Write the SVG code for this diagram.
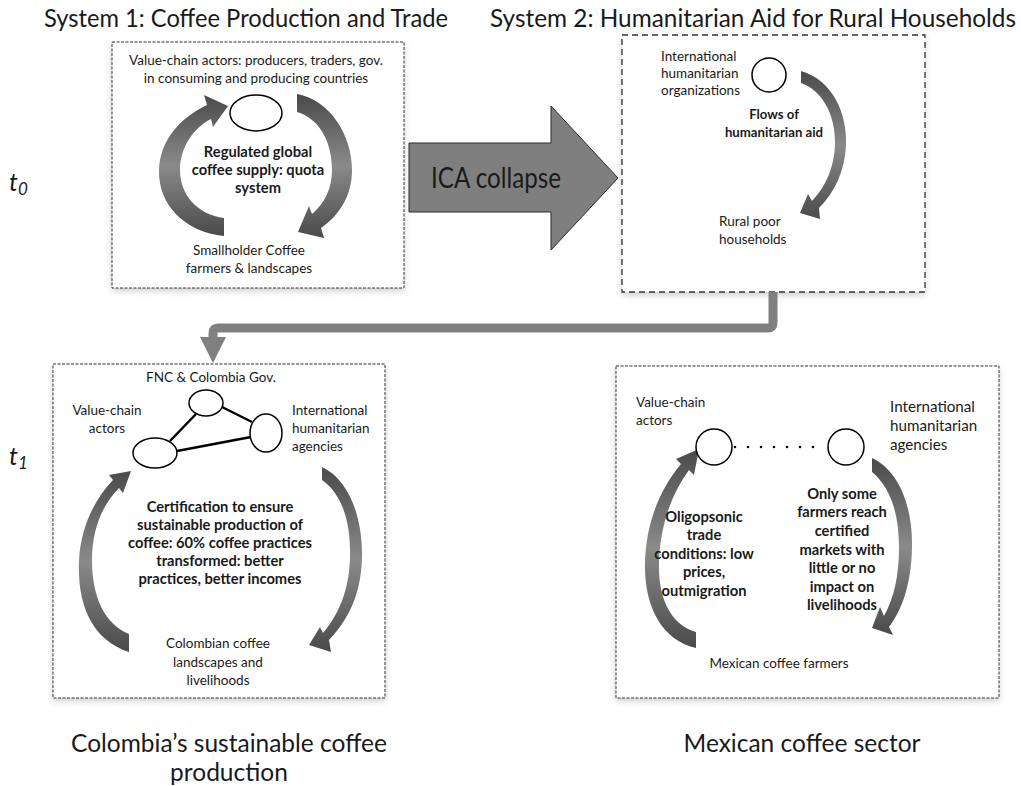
<svg xmlns="http://www.w3.org/2000/svg" width="1021" height="786" viewBox="0 0 1021 786">
<defs>
<style>
.tx{font-family:Lato,"Liberation Sans",sans-serif;fill:#1a1a1a}
.n{font-size:13.5px}
.nb{font-size:15.2px}
.b{font-size:14.7px;font-weight:bold}
.b2{font-size:13.2px;font-weight:bold}
.ttl{font-size:24.5px}
.c{text-anchor:middle}
.box{fill:#fff;stroke:#333;stroke-width:1;stroke-dasharray:3 1.5}
.box2{fill:#fff;stroke:#333;stroke-width:1.3;stroke-dasharray:6 4}
.nd{fill:#fff;stroke:#000;stroke-width:1.5}
.arc{fill:url(#g);stroke:none}
.lk{stroke:#000;stroke-width:2.5;fill:none}
</style>
<linearGradient id="g" x1="0" y1="0" x2="0" y2="1">
<stop offset="0" stop-color="#4a4a4a"/>
<stop offset="0.5" stop-color="#8a8a8a"/>
<stop offset="1" stop-color="#4a4a4a"/>
</linearGradient>
<filter id="sh" x="-5%" y="-5%" width="110%" height="115%">
<feDropShadow dx="0" dy="3" stdDeviation="3" flood-color="#000" flood-opacity="0.18"/>
</filter>
</defs>
<rect width="1021" height="786" fill="#fff"/>

<g id="titles">
<text class="tx ttl" x="44" y="27" textLength="404" lengthAdjust="spacingAndGlyphs">System 1: Coffee Production and Trade</text>
<text class="tx ttl" x="490" y="27" textLength="526" lengthAdjust="spacingAndGlyphs">System 2: Humanitarian Aid for Rural Households</text>
<text class="tx" x="9" y="191" font-size="25" font-style="italic">t<tspan font-size="17" dy="4">0</tspan></text>
<text class="tx" x="9" y="465" font-size="25" font-style="italic">t<tspan font-size="17" dy="4">1</tspan></text>
<text class="tx ttl c" x="229" y="752">Colombia’s sustainable coffee</text>
<text class="tx ttl c" x="229" y="781">production</text>
<text class="tx ttl c" x="802" y="752">Mexican coffee sector</text>
</g>

<g id="system1">
<rect class="box" x="112" y="42" width="292" height="246" filter="url(#sh)"/>
<path class="arc" d="M224,236 C185,232 158,205 159,170 C160,140 180,118 207,105 L204,95 L228,106 L213,127 L211,119 C193,128 180,148 180,170 C180,195 198,215 224,218 Z"/>
<path class="arc" d="M297,94 C330,100 352,135 352,170 C352,195 340,215 321,228 L324,238 L298,232 L309,206 L312,214 C325,203 332,188 332,170 C332,140 318,118 297,112 Z"/>
<text class="tx n c" x="256" y="65">Value-chain actors: producers, traders, gov.</text>
<text class="tx n c" x="256" y="83">in consuming and producing countries</text>
<ellipse class="nd" cx="256" cy="113" rx="26" ry="18"/>
<text class="tx b c" x="258" y="157">Regulated global</text>
<text class="tx b c" x="258" y="175">coffee supply: quota</text>
<text class="tx b c" x="258" y="193">system</text>
<text class="tx n c" x="249" y="255">Smallholder Coffee</text>
<text class="tx n c" x="249" y="273">farmers &amp; landscapes</text>
</g>

<g id="ica">
<polygon points="409,143 551,143 551,106 618,178 551,250 551,212 409,212" fill="#7f7f7f" stroke="#2b2b2b" stroke-width="1"/>
<text class="tx" x="431" y="188" font-size="29" textLength="130" lengthAdjust="spacingAndGlyphs">ICA collapse</text>
</g>

<g id="system2">
<rect class="box2" x="622" y="35" width="303" height="257" filter="url(#sh)"/>
<path class="arc" d="M801,71 C832,80 847,112 846,145 C845,170 835,192 819,208 L820,219 L800,213 L808,194 L812,201 C826,186 834,168 835,145 C836,115 822,90 801,83 Z"/>
<text class="tx n" x="661" y="61">International</text>
<text class="tx n" x="661" y="78">humanitarian</text>
<text class="tx n" x="661" y="95">organizations</text>
<circle class="nd" cx="769" cy="75" r="17"/>
<text class="tx b2 c" x="774" y="119">Flows of</text>
<text class="tx b2 c" x="774" y="137">humanitarian  aid</text>
<text class="tx n" x="719" y="226">Rural poor</text>
<text class="tx n" x="719" y="244">households</text>
</g>

<g id="connectors">
<path d="M773,292 V323 Q773,328 768,328 H218 Q213,328 213,333 V340" fill="none" stroke="#808080" stroke-width="9"/>
<polygon points="200,337 226,337 213,363" fill="#808080"/>
</g>

<g id="colombia">
<rect class="box" x="53" y="364" width="332" height="334" filter="url(#sh)"/>
<path class="arc" d="M129,652 C92,640 77,605 79,560 C81,527 94,500 113,480 L109,475 L131,471 L123,493 L119,488 C102,505 92,530 92,560 C92,598 105,624 129,634 Z"/>
<path class="arc" d="M322,467 C350,480 363,520 362,558 C361,595 348,620 329,640 L331,652 L309,645 L320,627 L323,633 C339,614 349,590 350,558 C351,522 342,494 322,480 Z"/>
<text class="tx n c" x="211" y="382">FNC &amp; Colombia  Gov.</text>
<text class="tx n c" x="107" y="415">Value-chain</text>
<text class="tx n c" x="107" y="433">actors</text>
<text class="tx n" x="292" y="415">International</text>
<text class="tx n" x="292" y="433">humanitarian</text>
<text class="tx n" x="292" y="451">agencies</text>
<line class="lk" x1="196" y1="414" x2="170" y2="441"/>
<line class="lk" x1="222" y1="407" x2="252" y2="422"/>
<line class="lk" x1="177" y1="451" x2="251" y2="437"/>
<ellipse class="nd" cx="206" cy="403" rx="17" ry="13"/>
<ellipse class="nd" cx="155" cy="453" rx="22" ry="15"/>
<ellipse class="nd" cx="266" cy="433" rx="16" ry="19"/>
<text class="tx b c" x="220" y="512">Certification to ensure</text>
<text class="tx b c" x="220" y="530">sustainable production of</text>
<text class="tx b c" x="220" y="548">coffee: 60% coffee practices</text>
<text class="tx b c" x="220" y="566">transformed: better</text>
<text class="tx b c" x="220" y="584">practices, better incomes</text>
<text class="tx n c" x="218" y="648">Colombian  coffee</text>
<text class="tx n c" x="218" y="667">landscapes and</text>
<text class="tx n c" x="218" y="685">livelihoods</text>
</g>

<g id="mexico">
<rect class="box" x="616" y="366" width="383" height="332" filter="url(#sh)"/>
<path class="arc" transform="translate(-4,0)" d="M700,648 C665,640 648,605 649,563 C650,525 662,492 685,464 L680,459 L703,449 L698,475 L693,470 C674,496 664,528 663,563 C662,600 676,625 700,632 Z"/>
<path class="arc" d="M872,458 C898,470 913,505 912,548 C911,585 902,610 889,627 L893,635 L872,628 L880,607 L884,616 C894,598 899,575 899,548 C899,512 890,487 872,472 Z"/>
<text class="tx n" x="636" y="407">Value-chain</text>
<text class="tx n" x="636" y="425">actors</text>
<text class="tx nb" x="890" y="412">International</text>
<text class="tx nb" x="890" y="431">humanitarian</text>
<text class="tx nb" x="890" y="450">agencies</text>
<line x1="735" y1="447" x2="826" y2="447" stroke="#000" stroke-width="2.6" stroke-linecap="round" stroke-dasharray="0 13"/>
<circle class="nd" cx="714" cy="447" r="18"/>
<circle class="nd" cx="846" cy="447" r="18"/>
<text class="tx b c" x="704" y="522">Oligopsonic</text>
<text class="tx b c" x="704" y="540">trade</text>
<text class="tx b c" x="704" y="559">conditions: low</text>
<text class="tx b c" x="704" y="577">prices,</text>
<text class="tx b c" x="704" y="596">outmigration</text>
<text class="tx b c" x="842" y="499">Only some</text>
<text class="tx b c" x="842" y="517">farmers reach</text>
<text class="tx b c" x="842" y="536">certified</text>
<text class="tx b c" x="842" y="555">markets with</text>
<text class="tx b c" x="842" y="573">little or no</text>
<text class="tx b c" x="842" y="592">impact on</text>
<text class="tx b c" x="842" y="610">livelihoods</text>
<text class="tx n c" x="779" y="668">Mexican coffee farmers</text>
</g>
</svg>
